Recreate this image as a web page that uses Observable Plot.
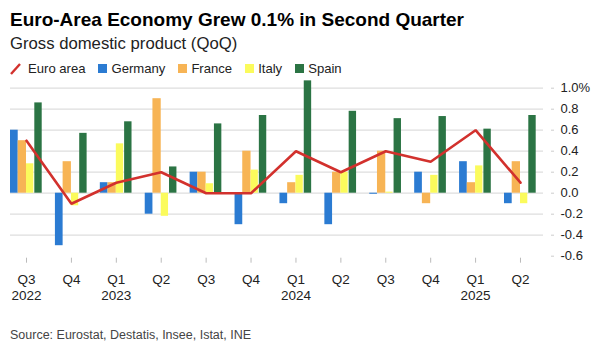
<!DOCTYPE html>
<html>
<head>
<meta charset="utf-8">
<script src="https://cdn.jsdelivr.net/npm/d3@7"></script>
<script src="https://cdn.jsdelivr.net/npm/@observablehq/plot@0.6"></script>
<style>
  html, body { margin: 0; padding: 0; background: #fff; }
  #wrap { position: relative; width: 596px; height: 352px; font-family: "Liberation Sans", Arial, sans-serif; color: #111; }
  .abs { position: absolute; left: 10px; white-space: nowrap; }
  #title { top: 9px; font-size: 19px; line-height: 22px; font-weight: bold; color: #000; }
  #subtitle { top: 35px; font-size: 16.7px; line-height: 18px; color: #222; }
  #legend { top: 61.3px; font-size: 13.1px; line-height: 15px; color: #222; display: flex; align-items: center; }
  .item { display: flex; align-items: center; margin-right: 12.5px; }
  .sw { width: 9px; height: 9px; margin-right: 4.5px; display: inline-block; }
  #chart { position: absolute; left: 0; top: 78px; }
  #source { top: 327.7px; font-size: 12.5px; line-height: 14px; color: #444; }
</style>
</head>
<body>
<div id="wrap">
  <div id="title" class="abs">Euro-Area Economy Grew 0.1% in Second Quarter</div>
  <div id="subtitle" class="abs">Gross domestic product (QoQ)</div>
  <div id="legend" class="abs"></div>
  <div id="chart"></div>
  <div id="source" class="abs">Source: Eurostat, Destatis, Insee, Istat, INE</div>
</div>
<script>
// ---- data ----
const quarters = ["2022Q3","2022Q4","2023Q1","2023Q2","2023Q3","2023Q4","2024Q1","2024Q2","2024Q3","2024Q4","2025Q1","2025Q2"];
const quarterLabels = ["Q3\n2022","Q4","Q1\n2023","Q2","Q3","Q4","Q1\n2024","Q2","Q3","Q4","Q1\n2025","Q2"];
const euroArea = [0.5, -0.1, 0.1, 0.2, 0.0, 0.0, 0.4, 0.2, 0.4, 0.3, 0.6, 0.1];
const germany  = [0.6, -0.5, 0.1, -0.2, 0.2, -0.3, -0.1, -0.3, -0.01, 0.2, 0.3, -0.1];
const france   = [0.5, 0.3, 0.1, 0.9, 0.2, 0.4, 0.1, 0.2, 0.4, -0.1, 0.1, 0.3];
const italy    = [0.28, -0.12, 0.47, -0.22, 0.09, 0.22, 0.17, 0.2, 0.01, 0.17, 0.26, -0.1];
const spain    = [0.86, 0.57, 0.68, 0.25, 0.66, 0.74, 1.07, 0.78, 0.71, 0.73, 0.61, 0.74];
const yTicks = [-0.6, -0.4, -0.2, 0, 0.2, 0.4, 0.6, 0.8, 1.0];
const gridTicks = [-0.4, -0.2, 0, 0.2, 0.4, 0.6, 0.8, 1.0];

const seriesNames = ["Germany", "France", "Italy", "Spain"];
const seriesValues = [germany, france, italy, spain];
const colors = {"Euro area": "#d2312d", Germany: "#2b7bd2", France: "#f7b455", Italy: "#fbfb5c", Spain: "#2b7444"};

// ---- layout ----
const W = 596, H = 225;
const xRange = [3.55, 542.45];
const step = (xRange[1] - xRange[0]) / quarters.length;
// bar sub-slot offsets relative to band centre [left, right]
const slots = [[-16, -8.3], [-8.3, 0], [0, 7.3], [8.3, 15.7]];

// legend
const legend = document.getElementById("legend");
{
  const it = document.createElement("span");
  it.className = "item";
  it.innerHTML = `<svg width="11" height="12" style="margin-right:7px"><line x1="1" y1="11" x2="10" y2="1" stroke="${colors["Euro area"]}" stroke-width="2.4"/></svg>Euro area`;
  legend.appendChild(it);
}
for (const n of seriesNames) {
  const it = document.createElement("span");
  it.className = "item";
  it.innerHTML = `<span class="sw" style="background:${colors[n]}"></span>${n}`;
  legend.appendChild(it);
}

const rows = quarters.map((q, i) => ({q, label: quarterLabels[i], euro: euroArea[i]}));

const barMarks = seriesNames.map((n, k) => Plot.barY(quarters.map((q, i) => ({q, v: seriesValues[k][i]})), {
  x: "q", y: "v", fill: colors[n],
  insetLeft: step / 2 + slots[k][0],
  insetRight: step / 2 - slots[k][1]
}));

const chart = Plot.plot({
  width: W, height: H,
  marginLeft: 10, marginRight: 53, marginTop: 9.7, marginBottom: 45.3,
  style: {fontFamily: "Liberation Sans, Arial, sans-serif", background: "transparent"},
  x: {type: "band", domain: quarters, range: xRange, padding: 0, round: false},
  y: {domain: [-0.6, 1.0], insetBottom: 2},
  marks: [
    Plot.ruleY(gridTicks, {stroke: "#dedede", strokeWidth: 1.2}),
    ...barMarks,
    Plot.lineY(rows, {x: "q", y: "euro", stroke: colors["Euro area"], strokeWidth: 2.6, strokeLinejoin: "miter"}),
    Plot.axisX({
      tickSize: 5, tickPadding: 9, stroke: "#bbb",
      tickFormat: (d) => quarterLabels[quarters.indexOf(d)],
      fontSize: 13.5, lineHeight: 1.185, fill: "#222", label: null
    }),
    Plot.axisY({
      anchor: "right", ticks: yTicks, tickSize: 3, tickPadding: 7, dx: 7, stroke: "#ccc",
      tickFormat: (d) => d === 1 ? "1.0%" : d3.format(".1f")(d).replace("−", "-"),
      fontSize: 13, fill: "#222", label: null
    })
  ]
});
document.getElementById("chart").appendChild(chart);
</script>
</body>
</html>
